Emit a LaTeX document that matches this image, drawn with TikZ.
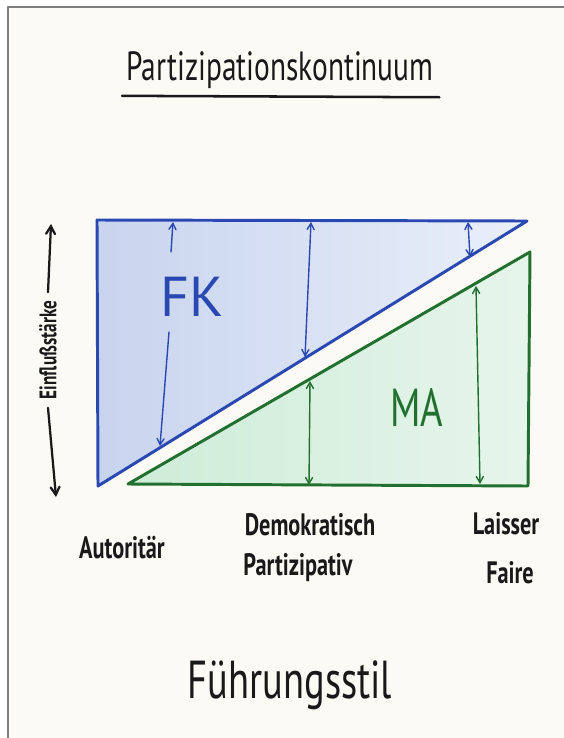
\documentclass[tikz,border=0pt]{standalone}
\usepackage{fontspec}
\newfontfamily\hand[FakeStretch=0.72]{PT Sans}
\newfontfamily\handwide{PT Sans}
\usetikzlibrary{arrows}

\definecolor{paper}{RGB}{252,250,245}
\definecolor{sheetedge}{RGB}{125,125,125}
\definecolor{ink}{RGB}{25,25,25}
\definecolor{fkblue}{RGB}{42,72,178}
\definecolor{fkdark}{RGB}{200,212,238}
\definecolor{fklight}{RGB}{234,239,249}
\definecolor{magreen}{RGB}{34,112,48}
\definecolor{madark}{RGB}{206,236,216}
\definecolor{malight}{RGB}{230,245,235}

\tikzset{
  marker/.style={line width=2.1pt},
  thinpen/.style={line width=1pt},
  lbl/.style={inner sep=0pt, text=ink, font=\hand\bfseries\fontsize{22}{24}\selectfont, align=center}
}

\begin{document}
\begin{tikzpicture}[line cap=round,line join=round,>=angle 60,x=0.025cm,y=-0.025cm]
	\useasboundingbox (0,0) rectangle (564,738);
	% Flipchart-Blatt
	\fill [paper] (8,7) rectangle (564,738);
	\draw [sheetedge,line width=1.2pt] (8,738) -- (8,7) -- (564,7);

	% Titel
	\node [lbl,font=\hand\fontsize{29}{30}\selectfont] (title) at (280,70) {Partizipationskontinuum};
	\draw [ink,line width=1.8pt] ([xshift=-3pt,yshift=-5pt]title.south west) -- ([xshift=4pt,yshift=-6pt]title.south east);

	% Ecken der beiden Dreiecke
	\coordinate (fkA) at (97,220);
	\coordinate (fkB) at (527,221);
	\coordinate (fkC) at (98,486);
	\coordinate (maA) at (128,484);
	\coordinate (maB) at (528,486);
	\coordinate (maC) at (530,252);

	\path [left color=fkdark,right color=fklight] (fkA) -- (fkB) -- (fkC) -- cycle;
	\path [left color=madark,right color=malight] (maA) -- (maB) -- (maC) -- cycle;
	\draw [fkblue,marker] (fkA) -- (fkB) -- (fkC) -- cycle;
	\draw [magreen,marker] (maA) -- (maB) -- (maC) -- cycle;

	% Beschriftung der Flaechen
	\node [text=fkblue,font=\handwide\fontsize{40}{40}\selectfont,inner sep=0pt] (fk) at (192,297) {FK};
	\node [text=magreen,font=\hand\fontsize{38}{38}\selectfont,inner sep=0pt] (ma) at (417,407) {MA};

	% Pfeile Fuehrungskraft
	\coordinate (fk1t) at (173,222);
	\coordinate (fk1m) at (171,252);
	\coordinate (fk1n) at (169,332);
	\coordinate (fk1b) at (160,446);
	\coordinate (fk2t) at (311,222);
	\coordinate (fk2b) at (305,357);
	\coordinate (fk3t) at (468,222);
	\coordinate (fk3b) at (470,257);
	\draw [fkblue,thinpen,->] (fk1m) -- (fk1t);
	\draw [fkblue,thinpen,->] (fk1n) -- (fk1b);
	\draw [fkblue,thinpen,<->] (fk2t) -- (fk2b);
	\draw [fkblue,thinpen,<->] (fk3t) -- (fk3b);

	% Pfeile Mitarbeiter
	\coordinate (ma1t) at (310,381);
	\coordinate (ma1b) at (309,485);
	\coordinate (ma2t) at (476,286);
	\coordinate (ma2b) at (480,484);
	\draw [magreen,thinpen,<->] (ma1t) -- (ma1b);
	\draw [magreen,thinpen,<->] (ma2t) -- (ma2b);

	% Achse links
	\node [lbl,font=\hand\bfseries\fontsize{17}{17}\selectfont,rotate=90] (infl) at (48,350) {Einflußstärke};
	\coordinate (axtop) at (51,224);
	\coordinate (axbot) at (56,497);
	\draw [ink,line width=1.6pt,->] ([yshift=6pt]infl.east) -- (axtop);
	\draw [ink,line width=1.6pt,->] ([yshift=-6pt]infl.west) -- (axbot);

	% Fuehrungsstile
	\node [lbl] (auto) at (122,548) {Autoritär};
	\node [lbl] (demo) at (310,525) {Demokratisch};
	\node [lbl] (part) at (298,568) {Partizipativ};
	\node [lbl] (lais) at (506,524) {Laisser};
	\node [lbl] (faire) at (510,573) {Faire};
	\node [lbl,font=\hand\fontsize{38}{38}\selectfont] (stil) at (290,685) {Führungsstil};
\end{tikzpicture}
\end{document}
